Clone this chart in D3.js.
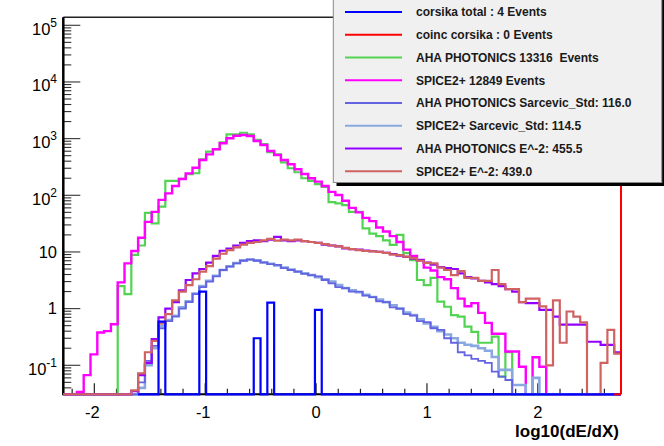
<!DOCTYPE html>
<html><head><meta charset="utf-8">
<script src="https://cdn.jsdelivr.net/npm/d3@7"></script>
<style>
body{margin:0;background:#fff}
svg{display:block}
text{font-family:"Liberation Sans",Arial,Helvetica,sans-serif}
</style>
</head><body>
<svg id="c" width="664" height="446"></svg>
<script>
// ---- histogram binning (like a ROOT TH1) ----
const xMin = -2.28, xMax = 2.75, nBins = 82;
const xTickValues = [-2, -1, 0, 1, 2];
const yTickExponents = [-1, 0, 1, 2, 3, 4, 5];
const xTitle = "log10(dE/dX)";

const legendLabels = [
  "corsika total : 4 Events",
  "coinc corsika : 0 Events",
  "AHA PHOTONICS 13316  Events",
  "SPICE2+ 12849 Events",
  "AHA PHOTONICS Sarcevic_Std: 116.0",
  "SPICE2+ Sarcevic_Std: 114.5",
  "AHA PHOTONICS E^-2: 455.5",
  "SPICE2+ E^-2: 439.0"
];
const legendColors = ["#0000ff","#ff0000","#52d452","#ff00ff","#6464e2","#8aa8e0","#9400ff","#d06262"];

// ---- per-bin contents (82 bins) ----
const corsikaTotal = [null,null,null,null,null,null,null,null,
  null,null,null,0,0,0,0.59,0,0,0,
  0,0,2.0,0,0,0,0,0,0,0,
  0.30,0,1.28,0,0,0,0,0,0,0.95,
  0,0,0,0,0,0,0,0,0,0,
  0,0,0,0,0,0,0,0,0,0,
  0,0,0,0,0,0,0,0,0,0,
  0,0,0,0,0,0,0,0,0,0,
  0,0,0,0];
const coincCorsika = new Array(82).fill(0);
const ahaPhotonics = [0,0,0,0,0,0,0,0,
  2.5,1.8,8.9,13,49,32,63,180,180,195,
  235,245,430,590,650,860,1190,1190,1270,1190,
  950,800,575,530,380,300,255,200,180,157,
  141,76,72,67,51,51,26,21,19,16,
  13.3,20,9.5,7.2,3.2,2.6,3.5,1.33,1.08,0.77,
  0.72,0.48,0.39,0.25,0.25,0.32,0.063,0.17,0,0,
  0,0,0,0,0,0,0,0,0,0,
  0,0,0,0];
const spice2 = [0,0,0.034,0.067,0.156,0.38,0.40,0.53,
  2.9,6.3,10.4,17.8,34,51,83,108,146,194,
  244,307,420,528,648,828,1014,1127,1159,1114,
  907,772,606,514,420,352,288,238,200,174,
  146,115,101,80,60,50,40,35,27,23,
  19,15,11,8.5,7.2,5.3,4.7,3.6,3.3,2.3,
  1.5,1.1,1.25,0.84,0.56,0.36,0.36,0.175,0.175,0.094,
  0,0.139,0.094,0,0,0,0,0,0,0,
  0,0,0,0];
const ahaSarcevic = [0,0,0,0,0,0,0,0,
  0,0,0,0.05,0.12,0.22,0.45,0.6,0.72,1.0,
  1.3,1.8,2.4,3.0,3.7,4.8,5.5,6.3,7.0,7.4,
  7.0,6.5,6.1,5.9,5.2,4.8,4.5,4.1,3.9,3.7,
  3.2,2.8,2.4,2.3,2.0,2.0,1.7,1.6,1.35,1.3,
  1.05,1.0,0.8,0.75,0.6,0.58,0.45,0.42,0.3,0.25,
  0.17,0.15,0.13,0.12,0.11,0.077,0.063,0.055,0,0,
  0,0,0,0,0,0,0,0,0,0,
  0,0,0,0];
const spiceSarcevic = [0,0,0,0,0,0,0,0,
  0,0,0,0.04,0.1,0.2,0.5,0.63,0.75,1.05,
  1.35,1.85,2.5,3.1,3.8,4.8,5.6,6.4,7.1,7.3,
  7.1,6.6,6.2,5.8,5.3,4.9,4.5,4.2,3.9,3.6,
  3.3,3.0,2.6,2.3,2.1,1.95,1.75,1.6,1.45,1.3,
  1.15,1.0,0.85,0.77,0.65,0.55,0.48,0.4,0.35,0.3,
  0.25,0.23,0.22,0.2,0.18,0.14,0.083,0.083,0.045,0.045,
  0,0.06,0,0,0,0,0,0,0,0,
  0,0,0,0];
const ahaE2 = [0,0,0,0,0,0,0,0,
  0,0,0.035,0.067,0.11,0.29,0.7,1.0,1.3,2.1,
  3.2,4.2,5.0,6.5,8.5,10.5,11.5,13,14.5,15.5,
  16,15.5,16.5,18.5,16,15.5,16,15.5,15,14.5,
  13.5,13,12.5,11.5,11.2,11,10.6,10.3,10,9.6,
  9.2,8.6,8.2,7.6,7.2,6.5,6.0,5.4,5.2,5.0,
  4.2,3.6,3.4,3.1,2.9,2.7,2.5,2.2,2.0,1.3,
  1.25,1.25,0.95,0.95,0.72,0.52,0.52,0.52,0.52,0.26,
  0.26,0.23,0.23,0.17];
const spiceE2 = [0,0,0,0,0,0,0,0,
  0,0,0.036,0.072,0.17,0.27,0.55,0.8,1.4,2.0,
  2.6,3.3,4.5,5.6,7.6,9.3,10.8,12,13.5,14.5,
  15,16,17,15.8,16.5,16,16.5,15.5,15,14.5,
  13.8,13,12.5,11.8,11.2,10.8,10.4,10.2,10,9.6,
  9.0,8.8,8.3,7.8,7.0,6.4,6.3,5.3,4.8,3.9,
  4.6,3.5,3.5,3.1,3.1,4.8,2.7,2.2,2.2,1.3,
  1.5,1.5,1.1,0.1,1.4,0.25,0.89,0.72,0.57,0,
  0,0.11,0.42,0.16];

// ---- layout ----
const frame = {left: 63.3, right: 621, top: 17.3, bottom: 394.3};
const yMin = Math.pow(10, -1.512), yMax = Math.pow(10, 5.141);

const svg = d3.select("#c");
const x = d3.scaleLinear().domain([xMin, xMax]).range([frame.left, frame.right]);
const y = d3.scaleLog().domain([yMin, yMax]).range([frame.bottom, frame.top]);
const binW = (xMax - xMin) / nBins;
const edge = i => xMin + i * binW;

function yPix(v) {
  if (!(v > yMin)) return frame.bottom;
  return Math.max(frame.top, y(v));
}

// ---- axes ----
const g = svg.append("g");
g.append("line").attr("x1", frame.left).attr("x2", frame.right)
  .attr("y1", frame.top).attr("y2", frame.top).attr("stroke", "#222").attr("stroke-width", 1.5);
g.append("line").attr("x1", frame.left).attr("x2", frame.right)
  .attr("y1", frame.bottom).attr("y2", frame.bottom).attr("stroke", "#000").attr("stroke-width", 2);

const xMinor = d3.range(-2.2, 2.7, 0.2).map(v => Math.round(v * 10) / 10)
  .filter(v => !xTickValues.includes(v));
g.selectAll(".xmin").data(xMinor).join("line")
  .attr("x1", d => x(d)).attr("x2", d => x(d))
  .attr("y1", frame.bottom).attr("y2", frame.bottom - 5.5)
  .attr("stroke", "#222").attr("stroke-width", 1.2);
g.selectAll(".xmaj").data(xTickValues).join("line")
  .attr("x1", d => x(d)).attr("x2", d => x(d))
  .attr("y1", frame.bottom).attr("y2", frame.bottom - 11)
  .attr("stroke", "#222").attr("stroke-width", 1.2);
g.selectAll(".xlab").data(xTickValues).join("text")
  .attr("x", d => x(d) - (d < 0 ? 2 : 0)).attr("y", 417.5)
  .attr("text-anchor", "middle").attr("font-size", 16.5)
  .text(d => d < 0 ? "-" + Math.abs(d) : String(d));
svg.append("text").attr("x", 619).attr("y", 437)
  .attr("text-anchor", "end").attr("font-size", 17).attr("font-weight", "bold")
  .text(xTitle);

const yMinor = [];
for (let e = -2; e <= 5; e++) for (let k = 2; k <= 9; k++) {
  const v = k * Math.pow(10, e);
  if (v > yMin && v < yMax) yMinor.push(v);
}
g.selectAll(".ymin").data(yMinor).join("line")
  .attr("x1", frame.left).attr("x2", frame.left + 8)
  .attr("y1", d => y(d)).attr("y2", d => y(d))
  .attr("stroke", "#333").attr("stroke-width", 1.1);
g.selectAll(".ymaj").data(yTickExponents).join("line")
  .attr("x1", frame.left).attr("x2", frame.left + 17)
  .attr("y1", d => y(Math.pow(10, d))).attr("y2", d => y(Math.pow(10, d)))
  .attr("stroke", "#333").attr("stroke-width", 1.1);
const ylab = g.selectAll(".ylab").data(yTickExponents).join("text")
  .attr("x", 57).attr("text-anchor", "end").attr("font-size", 16.5)
  .attr("y", d => y(Math.pow(10, d)) + ((d === 0 || d === 1) ? 5.8 : 9.5));
ylab.each(function(d) {
  const t = d3.select(this);
  if (d === 0) t.text("1");
  else if (d === 1) t.text("10");
  else {
    t.append("tspan").text("10");
    t.append("tspan").attr("font-size", 12).attr("dy", -8).text(String(d));
  }
});
g.append("line").attr("x1", frame.left).attr("x2", frame.left)
  .attr("y1", frame.top).attr("y2", frame.bottom + 1).attr("stroke", "#000").attr("stroke-width", 2.5);

// ---- histograms ----
function stepPoints(vals) {
  const pts = [];
  vals.forEach((v, i) => {
    if (v === null) return;
    const yy = yPix(v);
    pts.push([x(edge(i)), yy], [x(edge(i + 1)), yy]);
  });
  return pts;
}
const line = d3.line();
const hists = [
  {vals: ahaPhotonics, color: legendColors[2], w: 2.2},
  {vals: spice2, color: legendColors[3], w: 2.4},
  {vals: spiceSarcevic, color: legendColors[5], w: 2.6},
  {vals: ahaSarcevic, color: legendColors[4], w: 1.8},
  {vals: ahaE2, color: legendColors[6], w: 2.2},
  {vals: spiceE2, color: legendColors[7], w: 2.2},
  {vals: corsikaTotal, color: legendColors[0], w: 2.2}
];
hists.forEach(h => {
  svg.append("path").attr("d", line(stepPoints(h.vals)))
    .attr("fill", "none").attr("stroke", h.color).attr("stroke-width", h.w)
    .attr("stroke-linejoin", "miter");
});
svg.append("path").attr("d", line(stepPoints(coincCorsika).slice(-2)))
  .attr("fill", "none").attr("stroke", legendColors[1]).attr("stroke-width", 2);
svg.append("line").attr("x1", x(edge(nBins))).attr("x2", x(edge(nBins)))
  .attr("y1", frame.top).attr("y2", frame.bottom)
  .attr("stroke", legendColors[1]).attr("stroke-width", 2);

// ---- legend ----
const lg = svg.append("g");
lg.append("rect").attr("x", 336.5).attr("y", -5).attr("width", 330).attr("height", 191)
  .attr("fill", "#000");
lg.append("rect").attr("x", 333.3).attr("y", -5).attr("width", 328.5).attr("height", 187.5)
  .attr("fill", "#f0f0f0").attr("stroke", "#8a8a8a").attr("stroke-width", 1);
legendLabels.forEach((lab, i) => {
  const cy = 12 + i * 22.75;
  lg.append("line").attr("x1", 345).attr("x2", 402).attr("y1", cy).attr("y2", cy)
    .attr("stroke", legendColors[i]).attr("stroke-width", 2);
  lg.append("text").attr("x", 416).attr("y", cy + 4.3)
    .attr("font-size", 12).attr("font-weight", "bold").attr("fill", "#1a1a1a")
    .style("white-space", "pre").text(lab);
});
</script>
</body></html>
